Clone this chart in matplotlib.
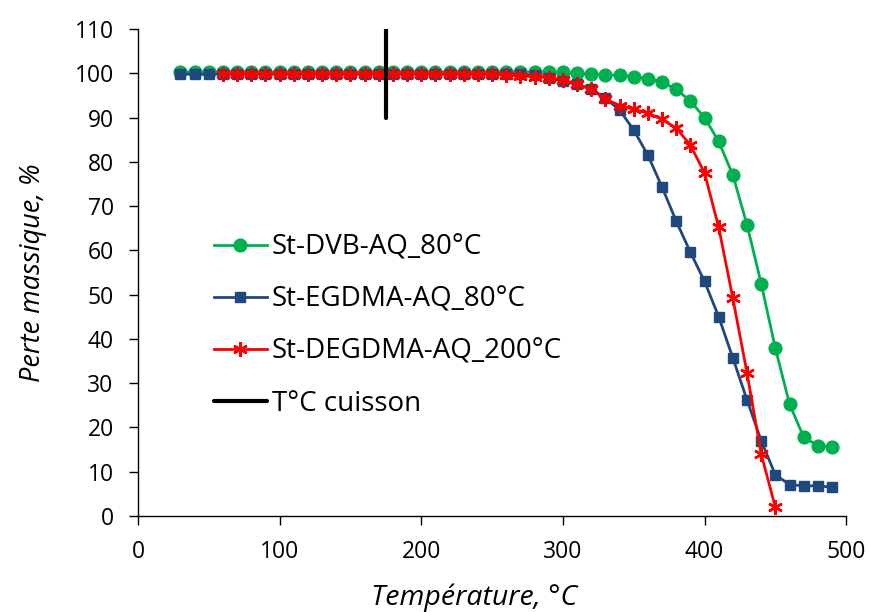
import numpy as np
import matplotlib.pyplot as plt

plt.rcParams['font.family'] = ['Open Sans', 'DejaVu Sans']

# Données ATG
temp_dvb = np.arange(30, 491, 10)
perte_dvb = [100.3] * 27 + [100.2, 100.0, 99.8, 99.7, 99.5, 99.2, 98.8, 98.0, 96.4, 93.7,
                            90.0, 84.6, 77.0, 65.8, 52.5, 37.9, 25.3, 17.8, 15.9, 15.6]

temp_egdma = np.arange(30, 491, 10)
perte_egdma = [99.8] * 25 + [99.5, 99.0, 98.2, 97.5, 96.4, 94.4, 91.7, 87.2, 81.5, 74.3,
                             66.6, 59.6, 53.0, 45.0, 35.7, 26.2, 17.0, 9.3, 7.1, 6.8, 6.8, 6.5]

temp_degdma = np.arange(60, 451, 10)
perte_degdma = [99.8] * 20 + [99.6, 99.4, 99.2, 99.0, 98.5, 97.5, 96.4, 94.2, 92.7, 91.9,
                              91.0, 89.6, 87.6, 83.8, 77.5, 65.2, 49.2, 32.3, 14.0, 2.0]

t_cuisson = [175, 175]
y_cuisson = [90, 110]

fig = plt.figure(figsize=(8.7, 6.12), dpi=100)
ax = fig.add_axes([0.1586, 0.1569, 0.814, 0.7957])

ax.plot(temp_dvb, perte_dvb, '-o', color='#00B050', lw=2, markersize=9.2,
        label='St-DVB-AQ_80°C')
ax.plot(temp_egdma, perte_egdma, '-s', color='#1F497D', lw=2, markersize=7.5,
        label='St-EGDMA-AQ_80°C')
ax.plot(temp_degdma, perte_degdma, '-', marker=(6, 2, 0), color='#FF0000', lw=2,
        markersize=10.5, markeredgewidth=1.8, label='St-DEGDMA-AQ_200°C')
ax.plot(t_cuisson, y_cuisson, '-', color='black', lw=3, solid_capstyle='round',
        label='T°C cuisson')

ax.set_xlim(0, 500)
ax.set_ylim(0, 110)
ax.set_xticks(np.arange(0, 501, 100))
ax.set_yticks(np.arange(0, 111, 10))
ax.tick_params(axis='both', labelsize=16.5, direction='out', length=6.5, width=1, pad=11)
ax.spines['top'].set_visible(False)
ax.spines['right'].set_visible(False)
ax.spines['left'].set_linewidth(1)
ax.spines['bottom'].set_linewidth(1)

ax.set_xlabel('Température, °C', fontsize=20.5, fontstyle='italic', labelpad=13.5, x=0.475)
ax.set_ylabel('Perte massique, %', fontsize=19.5, fontstyle='italic', labelpad=20)

ax.legend(loc='center left', bbox_to_anchor=(0.107, 0.391), frameon=False,
          borderpad=0, borderaxespad=0,
          fontsize=20, handlelength=1.9, handletextpad=0.2, labelspacing=0.87)

fig.savefig('out.png', dpi=100)
